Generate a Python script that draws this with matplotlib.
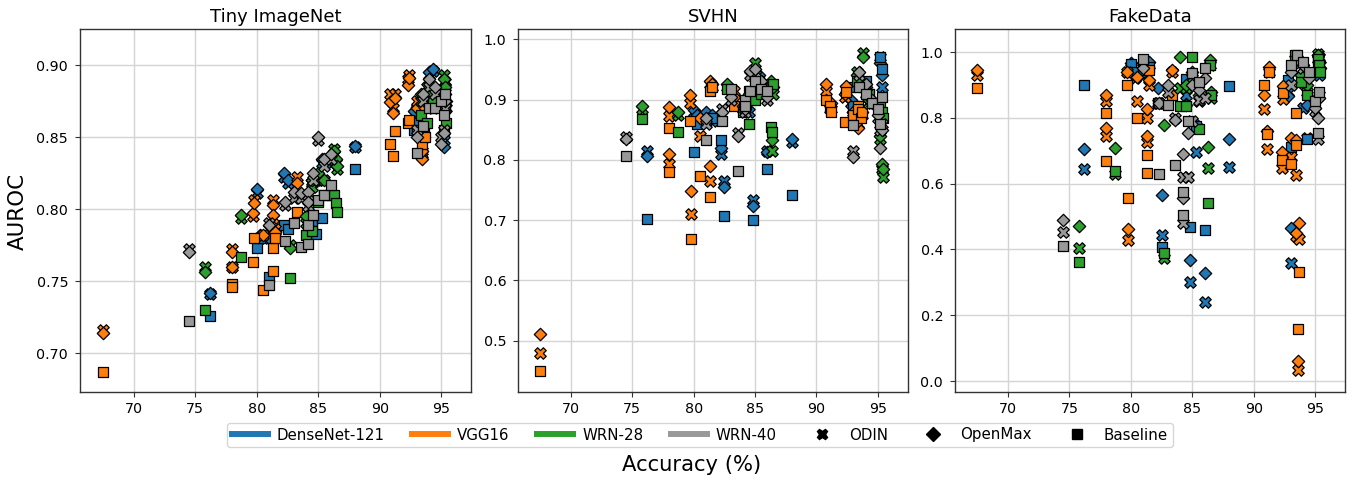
import matplotlib
matplotlib.use('Agg')
import matplotlib.pyplot as plt
from matplotlib.lines import Line2D

# -------------------------- DenseNet-121 --------------------------
dense_acc = [76.2, 80, 80.3, 81, 81.5, 82.2, 82.5, 84.5, 84.8, 85.3, 86, 88, 92.8, 93, 94, 94.3, 95.2, 95.3]
dense_tiny_base = [.726, .773, .78, .753, .785, .789, .786, .792, .783, .794, .81, .828, .855, .86, .875, .875, .855, .87]
dense_tiny_open = [.742, .814, .782, .78, .785, .825, .82, .82, .822, .835, .835, .844, .868, .871, .895, .897, .843, .88]
dense_tiny_odin = [.741, .811, .78, .78, .785, .822, .818, .818, .82, .832, .832, .843, .866, .87, .893, .896, .848, .885]
dense_svhn_base = [.702, .813, .86, .862, .87, .833, .707, .915, .70, .93, .785, .742, .92, .89, .93, .91, .97, .95]
dense_svhn_open = [.806, .882, .875, .88, .875, .82, .755, .90, .723, .94, .813, .835, .90, .88, .92, .90, .96, .94]
dense_svhn_odin = [.815, .87, .87, .875, .865, .81, .765, .88, .733, .925, .815, .83, .895, .865, .91, .895, .97, .92]
dense_fake_base = [.90, .965, .94, .945, .955, .845, .407, .917, .467, .775, .46, .898, .915, .712, .92, .735, .97, .96]
dense_fake_open = [.706, .967, .93, .94, .97, .89, .566, .84, .368, .78, .328, .736, .865, .465, .90, .84, .99, .95]
dense_fake_odin = [.645, .95, .92, .93, .96, .845, .444, .87, .302, .695, .24, .652, .88, .358, .83, .74, .98, .93]

# -------------------------- VGG16 --------------------------
vgg_acc = [67.5, 78, 78, 79.7, 79.8, 80.5, 81.3, 81.3, 81.5, 83.3, 90.8, 91.1, 91.2, 92.3, 92.4, 93, 93.4, 93.4, 93.6, 93.7]
vgg_tiny_base = [.687, .748, .746, .763, .78, .744, .757, .773, .78, .798, .845, .837, .854, .86, .862, .855, .849, .845, .855, .85]
vgg_tiny_open = [.714, .77, .76, .797, .804, .782, .803, .796, .784, .818, .874, .867, .877, .886, .891, .87, .835, .84, .85, .87]
vgg_tiny_odin = [.716, .772, .76, .795, .806, .782, .806, .794, .786, .822, .88, .87, .88, .89, .893, .875, .84, .838, .85, .875]
vgg_svhn_base = [.45, .853, .78, .865, .668, .773, .738, .915, .92, .89, .90, .89, .88, .862, .913, .875, .89, .885, .87, .88]
vgg_svhn_open = [.512, .887, .81, .907, .748, .87, .79, .93, .925, .905, .925, .895, .895, .91, .923, .88, .853, .865, .88, .88]
vgg_svhn_odin = [.48, .873, .793, .895, .71, .84, .765, .925, .92, .915, .915, .885, .885, .905, .918, .87, .86, .87, .875, .875]
vgg_fake_base = [.89, .815, .67, .90, .557, .80, .633, .688, .945, .87, .90, .752, .94, .672, .877, .66, .815, .718, .158, .332]
vgg_fake_open = [.945, .868, .77, .94, .462, .925, .828, .745, .915, .945, .868, .76, .955, .697, .898, .74, .45, .733, .06, .48]
vgg_fake_odin = [.93, .85, .745, .94, .43, .85, .80, .728, .90, .94, .828, .706, .94, .648, .858, .682, .44, .627, .033, .432]

# -------------------------- WRN-28 --------------------------
wrn28_acc = [75.8, 78.7, 82.7, 84, 84.5, 85, 85.5, 86.3, 86.4, 86.5, 93.3, 93.8, 94.3, 95.2, 95.3, 95.4]
wrn28_tiny_base = [.73, .767, .752, .782, .785, .805, .81, .81, .804, .798, .865, .86, .875, .88, .87, .86]
wrn28_tiny_open = [.756, .796, .773, .795, .82, .825, .82, .84, .835, .83, .88, .88, .875, .89, .885, .875]
wrn28_tiny_odin = [.76, .794, .775, .79, .815, .82, .82, .842, .832, .828, .875, .885, .87, .893, .888, .87]
wrn28_svhn_base = [.868, .847, .917, .88, .86, .90, .91, .855, .847, .925, .93, .92, .91, .89, .88, .87]
wrn28_svhn_open = [.89, .88, .925, .89, .91, .945, .915, .93, .833, .92, .94, .97, .90, .84, .793, .785]
wrn28_svhn_odin = [.885, .875, .92, .885, .905, .96, .91, .92, .815, .91, .945, .978, .895, .835, .785, .772]
wrn28_fake_base = [.362, .64, .39, .835, .835, .985, .767, .54, .96, .87, .99, .91, .87, .98, .96, .94]
wrn28_fake_open = [.47, .708, .778, .985, .90, .94, .87, .71, .975, .88, .97, .93, .90, .99, .97, .95]
wrn28_fake_odin = [.405, .63, .375, .89, .89, .92, .85, .648, .96, .86, .98, .92, .88, .995, .985, .96]

# -------------------------- WRN-40 --------------------------
wrn40_acc = [74.5, 81, 82.3, 83, 83.6, 84.2, 84.2, 84.6, 85, 85.5, 86, 93, 93.5, 94, 94.5, 95, 95.2, 95.3]
wrn40_tiny_base = [.722, .747, .778, .79, .774, .776, .789, .796, .806, .81, .817, .839, .858, .87, .87, .875, .865, .88]
wrn40_tiny_open = [.77, .789, .805, .812, .811, .812, .805, .825, .85, .835, .838, .85, .88, .89, .885, .845, .853, .875]
wrn40_tiny_odin = [.772, .79, .803, .808, .808, .81, .802, .82, .848, .83, .835, .855, .875, .885, .88, .85, .855, .87]
wrn40_svhn_base = [.806, .833, .865, .917, .782, .90, .89, .915, .93, .917, .915, .857, .92, .91, .895, .885, .86, .905]
wrn40_svhn_open = [.835, .87, .88, .905, .84, .89, .885, .947, .95, .93, .905, .805, .945, .925, .90, .875, .82, .85]
wrn40_svhn_odin = [.838, .86, .885, .90, .845, .885, .88, .94, .935, .925, .90, .815, .94, .92, .895, .87, .85, .86]
wrn40_fake_base = [.41, .98, .63, .84, .658, .575, .505, .79, .937, .91, .953, .96, .99, .97, .94, .85, .755, .88]
wrn40_fake_open = [.49, .95, .845, .90, .795, .69, .555, .755, .90, .885, .92, .94, .97, .96, .92, .83, .80, .86]
wrn40_fake_odin = [.452, .96, .845, .88, .80, .62, .48, .62, .79, .855, .86, .90, .98, .95, .93, .82, .735, .87]

titles = ['Tiny ImageNet', 'SVHN', 'FakeData']
net_names = ['DenseNet-121', 'VGG16', 'WRN-28', 'WRN-40']
net_colors = ['#1f77b4', '#ff7f0e', '#2ca02c', '#999999']
method_names = ['ODIN', 'OpenMax', 'Baseline']
method_markers = ['X', 'D', 's']
method_sizes = [68, 40, 44]

nets = [
    (dense_acc, [[dense_tiny_odin, dense_tiny_open, dense_tiny_base],
                 [dense_svhn_odin, dense_svhn_open, dense_svhn_base],
                 [dense_fake_odin, dense_fake_open, dense_fake_base]]),
    (vgg_acc, [[vgg_tiny_odin, vgg_tiny_open, vgg_tiny_base],
               [vgg_svhn_odin, vgg_svhn_open, vgg_svhn_base],
               [vgg_fake_odin, vgg_fake_open, vgg_fake_base]]),
    (wrn28_acc, [[wrn28_tiny_odin, wrn28_tiny_open, wrn28_tiny_base],
                 [wrn28_svhn_odin, wrn28_svhn_open, wrn28_svhn_base],
                 [wrn28_fake_odin, wrn28_fake_open, wrn28_fake_base]]),
    (wrn40_acc, [[wrn40_tiny_odin, wrn40_tiny_open, wrn40_tiny_base],
                 [wrn40_svhn_odin, wrn40_svhn_open, wrn40_svhn_base],
                 [wrn40_fake_odin, wrn40_fake_open, wrn40_fake_base]]),
]

W, H = 1353, 480
fig = plt.figure(figsize=(W / 100, H / 100), dpi=100)

# panel limits in pixels, left / right, top / bottom are shared
panel_px = [(80, 471), (518, 908), (955, 1345)]
top_px, bot_px = 29, 392
xlims = [(65.65, 97.4), (65.7, 97.45), (65.7, 97.4)]
ylims = [(0.673, 0.925), (0.415, 1.017), (-0.033, 1.07)]
yticks = [[0.70, 0.75, 0.80, 0.85, 0.90],
          [0.5, 0.6, 0.7, 0.8, 0.9, 1.0],
          [0.0, 0.2, 0.4, 0.6, 0.8, 1.0]]
yfmt = ['%.2f', '%.1f', '%.1f']

for p in range(3):
    l, r = panel_px[p]
    ax = fig.add_axes([l / W, 1 - bot_px / H, (r - l) / W, (bot_px - top_px) / H])
    for n in range(4):
        acc, panels = nets[n]
        for m in range(3):
            ax.scatter(acc, panels[p][m], marker=method_markers[m], s=method_sizes[m],
                       color=net_colors[n], edgecolor='black', linewidth=0.9,
                       zorder=3)
    ax.set_xlim(xlims[p])
    ax.set_ylim(ylims[p])
    ax.set_xticks([70, 75, 80, 85, 90, 95])
    ax.set_yticks(yticks[p])
    ax.set_yticklabels([yfmt[p] % v for v in yticks[p]])
    ax.tick_params(axis='y', labelsize=10.3, pad=5, color='#333333')
    ax.tick_params(axis='x', labelsize=10.3, pad=4, color='#333333')
    ax.grid(True, color='#d4d4d4', linewidth=1.0)
    ax.set_axisbelow(True)
    for sp in ax.spines.values():
        sp.set_color('#333333')
        sp.set_linewidth(1.0)
    ax.set_title(titles[p], fontsize=13, pad=5)

handles = [Line2D([], [], color=c, linewidth=4.3, label=nm)
           for c, nm in zip(net_colors, net_names)]
handles += [Line2D([], [], color='black', linestyle='none', marker=mk, markersize=7.5, label=nm)
            for mk, nm in zip(method_markers, method_names)]
fig.legend(handles=handles, loc='center', bbox_to_anchor=(700 / W, 1 - 435 / H), ncol=7,
           fontsize=10.8, handlelength=2.4, handletextpad=0.6, columnspacing=1.82, borderpad=0.3)

fig.text(692 / W, 1 - 465 / H, 'Accuracy (%)', fontsize=15.2, ha='center', va='center')
fig.text(17.5 / W, 1 - 211 / H, 'AUROC', fontsize=15.4, rotation=90, ha='center', va='center')

fig.savefig('out.png', dpi=100)
